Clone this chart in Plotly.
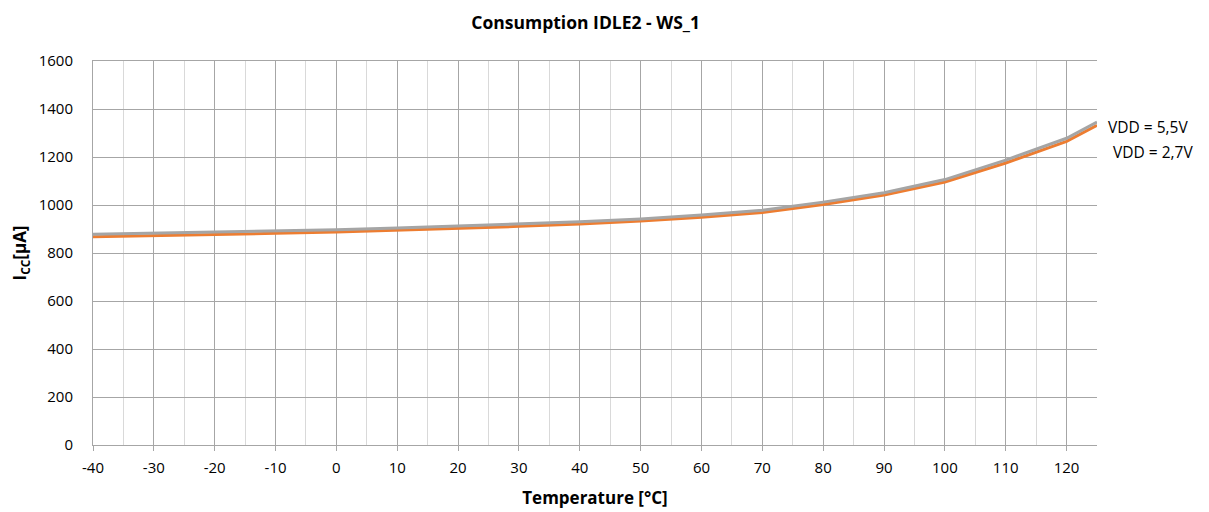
import plotly.graph_objects as go

# Data
temperature = [-40, -30, -20, -10, 0, 10, 20, 30, 40, 50, 60, 70, 80, 90, 100, 110, 120, 125]
icc_vdd_27 = [868, 872, 877, 882, 888, 895, 903, 911, 921, 933, 949, 969, 1002, 1042, 1096, 1175, 1265, 1332]
icc_vdd_55 = [878, 882, 886, 891, 897, 904, 912, 920, 930, 942, 958, 978, 1012, 1051, 1106, 1187, 1278, 1346]
series_names = ["VDD = 2,7V", "VDD = 5,5V"]
x_ticks = [-40, -30, -20, -10, 0, 10, 20, 30, 40, 50, 60, 70, 80, 90, 100, 110, 120]
x_tick_labels = ["-40", "-30", "-20", "-10", "0", "10", "20", "30", "40", "50", "60", "70",
                 "80", "90", "100", "110", "120"]

font = "Open Sans"

fig = go.Figure()
fig.add_trace(go.Scatter(x=temperature, y=icc_vdd_27, mode="lines", name=series_names[0],
                         line=dict(color="#ED7D31", width=3)))
fig.add_trace(go.Scatter(x=temperature, y=icc_vdd_55, mode="lines", name=series_names[1],
                         line=dict(color="#A5A5A5", width=3)))

# etiquetas al final de cada curva
fig.add_annotation(x=temperature[-1], y=icc_vdd_55[-1], text=series_names[1], showarrow=False,
                   xanchor="left", yanchor="middle", xshift=9, yshift=-5,
                   font=dict(family=font, size=15.5, color="#000000"))
fig.add_annotation(x=temperature[-1], y=icc_vdd_27[-1], text=series_names[0], showarrow=False,
                   xanchor="left", yanchor="middle", xshift=14, yshift=-27,
                   font=dict(family=font, size=15.5, color="#000000"))

# the page body has an 8px margin, so the figure is 8px smaller than the window
fig.update_layout(
    width=1201, height=504,
    margin=dict(l=85, r=112, t=53, b=67),
    plot_bgcolor="white", paper_bgcolor="white",
    showlegend=False,
    font=dict(family=font, size=15, color="#000000"),
    title=dict(text="<b>Consumption IDLE2 - WS_1</b>", x=0.481, xanchor="center", y=0.97,
               yanchor="middle", font=dict(family=font, size=17.5)),
)
fig.update_xaxes(
    range=[-40, 125], tickvals=x_ticks, ticktext=x_tick_labels, automargin=False,
    showgrid=True, gridcolor="#A6A6A6", gridwidth=1,
    minor=dict(dtick=5, tick0=-40, showgrid=True, gridcolor="#D9D9D9", gridwidth=1),
    ticks="outside", ticklen=5, tickcolor="#A6A6A6", ticklabelstandoff=4,
    showline=True, linecolor="#A6A6A6", mirror=True, zeroline=False,
    tickfont=dict(family=font, size=15),
    title=dict(text="<b>Temperature [°C]</b>", standoff=16, font=dict(family=font, size=17)),
)
fig.update_yaxes(
    range=[0, 1600], dtick=200, automargin=False,
    showgrid=True, gridcolor="#A6A6A6", gridwidth=1,
    showline=True, linecolor="#A6A6A6", zeroline=False,
    ticks="", ticklabelstandoff=16,
    tickfont=dict(family=font, size=15),
    title=dict(text="<b>I<sub>CC</sub>[µA]</b>", standoff=8, font=dict(family=font, size=17)),
)

fig.write_html("out.html")
